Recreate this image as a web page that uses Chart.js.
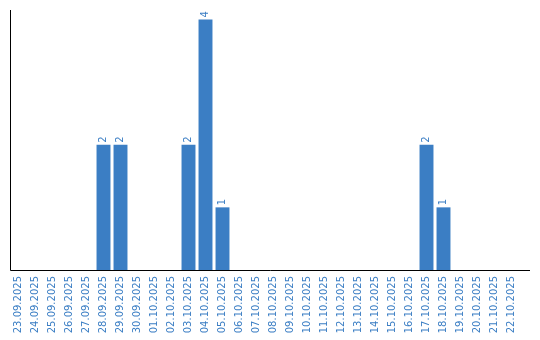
<!DOCTYPE html>
<html>
<head>
<meta charset="utf-8">
<script src="https://cdn.jsdelivr.net/npm/chart.js@4/dist/chart.umd.min.js"></script>
<style>
	html, body { margin: 0; padding: 0; background: #fff; }
	#wrap { width: 540px; height: 340px; }
</style>
</head>
<body>
<div id="wrap"><canvas id="chart"></canvas></div>
<script>
const dates = [
	'23.09.2025', '24.09.2025', '25.09.2025', '26.09.2025', '27.09.2025',
	'28.09.2025', '29.09.2025', '30.09.2025', '01.10.2025', '02.10.2025',
	'03.10.2025', '04.10.2025', '05.10.2025', '06.10.2025', '07.10.2025',
	'08.10.2025', '09.10.2025', '10.10.2025', '11.10.2025', '12.10.2025',
	'13.10.2025', '14.10.2025', '15.10.2025', '16.10.2025', '17.10.2025',
	'18.10.2025', '19.10.2025', '20.10.2025', '21.10.2025', '22.10.2025'
];
const counts = [
	0, 0, 0, 0, 0,
	2, 2, 0, 0, 0,
	2, 4, 1, 0, 0,
	0, 0, 0, 0, 0,
	0, 0, 0, 0, 2,
	1, 0, 0, 0, 0
];

const blue = '#3b7ec4';
const font = 'DejaVu Sans';

// value labels, rotated, sitting on top of each bar
const barLabels = {
	id: 'barLabels',
	afterDatasetsDraw(chart) {
		const con = chart.ctx;
		const meta = chart.getDatasetMeta(0);
		con.save();
		con.font = '10px "' + font + '"';
		con.fillStyle = blue;
		con.textAlign = 'left';
		con.textBaseline = 'middle';
		meta.data.forEach((bar, idx) => {
			const v = counts[idx];
			if (!v) return;
			con.save();
			con.translate(bar.x, bar.y - 2);
			con.rotate(-Math.PI / 2);
			con.fillText(String(v), 0, 0);
			con.restore();
		});
		con.restore();
	}
};

// plain black axis lines
const axisLines = {
	id: 'axisLines',
	afterDraw(chart) {
		const a = chart.chartArea;
		const con = chart.ctx;
		con.save();
		con.strokeStyle = '#000';
		con.lineWidth = 1;
		con.beginPath();
		con.moveTo(a.left + 0.5, a.top);
		con.lineTo(a.left + 0.5, a.bottom + 0.5);
		con.lineTo(a.right + 10, a.bottom + 0.5);
		con.stroke();
		con.restore();
	}
};

new Chart(document.getElementById('chart'), {
	type: 'bar',
	data: {
		labels: dates,
		datasets: [{
			data: counts,
			backgroundColor: blue,
			borderWidth: 0,
			barPercentage: 0.82,
			categoryPercentage: 1
		}]
	},
	options: {
		responsive: true,
		maintainAspectRatio: false,
		animation: false,
		layout: { padding: { left: 10, top: 10, right: 20, bottom: 0 } },
		plugins: {
			legend: { display: false },
			tooltip: { enabled: false }
		},
		scales: {
			x: {
				grid: { display: false, drawTicks: false },
				border: { display: false },
				afterFit(scale) { scale.height = 70; },
				ticks: {
					autoSkip: false,
					minRotation: 90,
					maxRotation: 90,
					padding: 6,
					color: blue,
					font: { family: font, size: 10 }
				}
			},
			y: {
				min: 0,
				max: 4.15,
				grid: { display: false },
				border: { display: false },
				ticks: { display: false },
				afterFit(scale) { scale.width = 0; }
			}
		}
	},
	plugins: [barLabels, axisLines]
});
</script>
</body>
</html>
